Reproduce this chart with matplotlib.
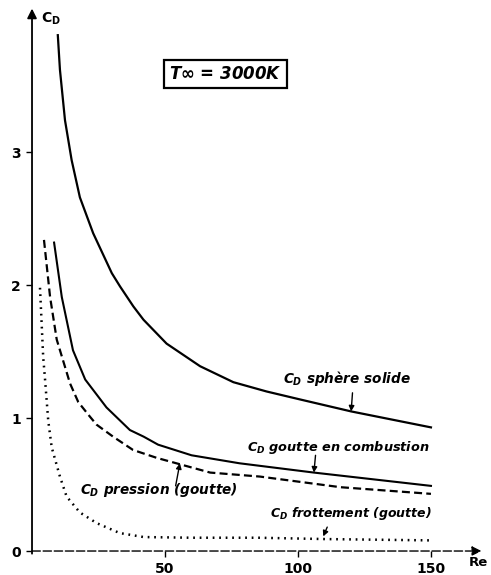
import matplotlib
matplotlib.use("Agg")
import matplotlib.pyplot as plt

# drag coefficient vs Reynolds number, T_inf = 3000 K
sphere_re = [9.7, 10.5, 12.4, 14.9, 18, 23, 30, 33.1, 38.1, 41.9, 50.6, 63.2, 75.7, 88.2, 100.8, 120, 135, 150]
sphere_cd = [3.88, 3.62, 3.24, 2.94, 2.66, 2.39, 2.09, 1.99, 1.84, 1.74, 1.56, 1.39, 1.27, 1.20, 1.14, 1.05, 0.99, 0.93]

combust_re = [8.3, 11.2, 15.4, 20, 28, 36.8, 42, 47.4, 60, 78, 106, 128, 150]
combust_cd = [2.32, 1.91, 1.51, 1.29, 1.08, 0.91, 0.86, 0.80, 0.72, 0.66, 0.59, 0.54, 0.49]

press_re = [4.5, 6.8, 9.3, 14.3, 17.4, 21.8, 24.3, 30.5, 38, 47, 67, 85.7, 116, 150]
press_cd = [2.34, 1.91, 1.59, 1.26, 1.12, 1.01, 0.95, 0.86, 0.76, 0.70, 0.59, 0.56, 0.48, 0.43]

frott_re = [3, 4.2, 4.9, 6.1, 7.4, 10.5, 13, 18, 24.3, 33, 42, 60, 85, 110, 150]
frott_cd = [1.98, 1.46, 1.29, 0.98, 0.78, 0.56, 0.41, 0.29, 0.21, 0.135, 0.105, 0.10, 0.10, 0.09, 0.08]

x_ticks = [50, 100, 150]
y_ticks = [0, 1, 2, 3]

plt.rcParams['mathtext.fontset'] = 'custom'
plt.rcParams['mathtext.it'] = 'DejaVu Sans:bold:italic'
plt.rcParams['mathtext.bf'] = 'DejaVu Sans:bold'
plt.rcParams['mathtext.rm'] = 'DejaVu Sans:bold'

fig = plt.figure(figsize=(4.91, 5.75), dpi=100)
ax = fig.add_axes([0.0652, 0.0417, 0.910, 0.948])
ax.set_xlim(0, 168)
ax.set_ylim(0, 4.1)
for s in ax.spines.values():
    s.set_visible(False)

ax.plot(sphere_re, sphere_cd, color='black', lw=1.6)
ax.plot(combust_re, combust_cd, color='black', lw=1.5)
ax.plot(press_re, press_cd, color='black', lw=1.6, linestyle=(0, (3.6, 1.9)))
ax.plot(frott_re, frott_cd, color='black', lw=1.8, linestyle=(0, (0.7, 1.9)))

# axes with arrow heads
ax.annotate('', xy=(0, 4.08), xytext=(0, -0.02),
            arrowprops=dict(arrowstyle='-|>', color='black', lw=1.3,
                            mutation_scale=14, shrinkA=0, shrinkB=0),
            annotation_clip=False)
ax.annotate('', xy=(169, 0), xytext=(0, 0),
            arrowprops=dict(arrowstyle='-|>', color='black', lw=1.0,
                            mutation_scale=14, shrinkA=0, shrinkB=0,
                            linestyle=(0, (6, 2))),
            annotation_clip=False)

ax.set_xticks(x_ticks)
ax.set_yticks(y_ticks)
ax.tick_params(direction='out', length=4, width=1.0, labelsize=10, pad=4)
for lab in ax.get_xticklabels() + ax.get_yticklabels():
    lab.set_fontweight('bold')

ax.text(3.5, 4.0, r'$\mathbf{C_D}$', fontsize=10, ha='left', va='center')
ax.text(171.5, -0.085, 'Re', fontsize=9.5, fontweight='bold', ha='right', va='center',
        clip_on=False)

ax.text(72.6, 3.59, r'$T\infty$ = 3000K', fontsize=12, fontweight='bold',
        fontstyle='italic', ha='center', va='center',
        bbox=dict(boxstyle='square,pad=0.3', fc='white', ec='black', lw=1.6))

lbl = dict(fontweight='bold', fontstyle='italic', va='center', ha='left')
ax.text(94.5, 1.30, r'$C_D$ sphère solide', fontsize=9.8, **lbl)
ax.text(81, 0.78, r'$C_D$ goutte en combustion', fontsize=9.3, **lbl)
ax.text(18, 0.46, r'$C_D$ pression (goutte)', fontsize=9.8, **lbl)
ax.text(89.5, 0.28, r'$C_D$ frottement (goutte)', fontsize=9, **lbl)

arr = dict(arrowstyle='-|>', color='black', lw=1.0, mutation_scale=8,
           shrinkA=0, shrinkB=0)
ax.annotate('', xy=(120, 1.05), xytext=(120.5, 1.19), arrowprops=arr)
ax.annotate('', xy=(106, 0.59), xytext=(106.6, 0.72), arrowprops=arr)
ax.annotate('', xy=(55.6, 0.66), xytext=(54, 0.49), arrowprops=arr)
ax.annotate('', xy=(109.5, 0.11), xytext=(111, 0.18), arrowprops=arr)

fig.savefig('out.png', dpi=100)
